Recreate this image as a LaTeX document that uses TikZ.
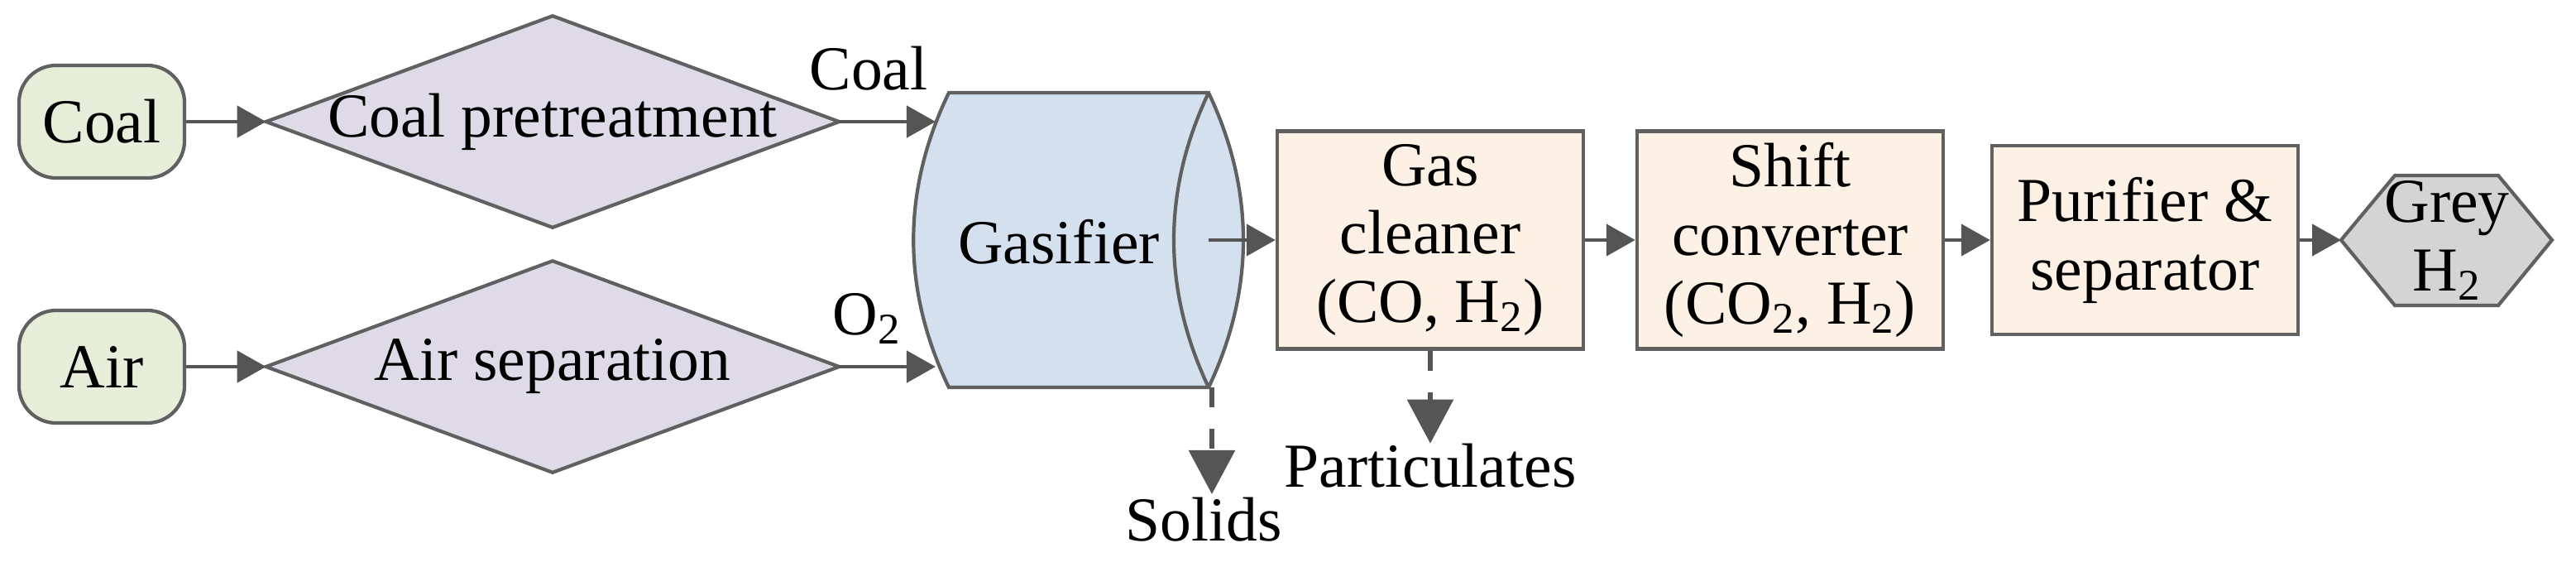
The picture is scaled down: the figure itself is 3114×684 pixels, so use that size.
\documentclass[tikz,border=0pt]{standalone}
\usepackage{fontspec}
\setmainfont{Liberation Serif}
\usetikzlibrary{shapes.geometric,arrows.meta}
\definecolor{lc}{HTML}{606060}
\definecolor{ac}{HTML}{555555}
\definecolor{termc}{HTML}{E6EDD8}
\definecolor{diac}{HTML}{DFDAE8}
\definecolor{gasc}{HTML}{D4E0EE}
\definecolor{boxc}{HTML}{FDF0E4}
\definecolor{hexc}{HTML}{D4D4D4}
\begin{document}
\begin{tikzpicture}[x=0.01cm,y=-0.01cm,
  every node/.style={font=\fontsize{21.5}{23.6}\selectfont, align=center},
  outl/.style={draw=lc, line width=1.2pt},
  term/.style={outl, fill=termc, rounded corners=0.45cm, minimum width=2cm, minimum height=1.36cm, inner sep=0pt},
  dia/.style={minimum width=6.91cm, minimum height=2.54cm, inner sep=0pt},
  diashape/.style={outl, fill=diac},
  box/.style={outl, fill=boxc, minimum width=3.7cm, minimum height=2.63cm, inner sep=0pt},
  hexa/.style={outl, fill=hexc},
  arr/.style={draw=ac, line width=1.4pt, -{Triangle[length=0.35cm,width=0.38cm]}},
  darr/.style={draw=ac, line width=1.7pt, dash pattern=on 0.24cm off 0.26cm, -{Triangle[length=0.53cm,width=0.55cm]}},
  lbl/.style={inner sep=0pt}]
\useasboundingbox (0,0) rectangle (3114,684);

% left inputs
\node[term] (coal) at (123,147) {Coal};
\node[term] (air) at (123,443) {Air};
\node[dia] (pre) at (668,147) {};
\node[dia] (asep) at (668,443) {};
\draw[diashape] (pre.west) -- (pre.north) -- (pre.east) -- (pre.south) -- cycle;
\draw[diashape] (asep.west) -- (asep.north) -- (asep.east) -- (asep.south) -- cycle;
\node at (pre) {Coal pretreatment};
\node at (asep) {Air separation};

% gasifier
\draw[outl, fill=gasc] (1147,112) -- (1461,112) .. controls (1517,230) and (1517,350) .. (1461,468)
  -- (1147,468) .. controls (1090,350) and (1090,230) .. (1147,112) -- cycle;
\draw[outl] (1461,112) .. controls (1405,230) and (1405,350) .. (1461,468);
\node (gas) at (1280,292) {Gasifier};
\coordinate (gin1) at (1131,147);
\coordinate (gin2) at (1131,443);
\coordinate (gout) at (1461,290);
\coordinate (gbot) at (1465,468);

% process boxes
\node[box] (clean) at (1729,290) {Gas\\cleaner\\(CO, H\textsubscript{2})};
\node[box] (shift) at (2164,290) {Shift\\converter\\(CO\textsubscript{2}, H\textsubscript{2})};
\node[box, minimum height=2.28cm] (pur) at (2593,290) {Purifier \&\\separator};
\draw[hexa] (2830,290) -- (2895,212) -- (3020,212) -- (3085,290) -- (3020,369) -- (2895,369) -- cycle;
\node (h2) at (2958,290) {Grey\\H\textsubscript{2}};
\coordinate (hin) at (2830,290);

% outputs
\node[lbl] (solids) at (1455,628) {Solids};
\node[lbl] (parts) at (1729,563) {Particulates};
\node[lbl] (lcoal) at (1050,83) {Coal};
\node[lbl] (lo2) at (1048,385) {O\textsubscript{2}};
\coordinate (sol) at (1465,597);

% connectors
\draw[arr] (coal) -- (pre.west);
\draw[arr] (air) -- (asep.west);
\draw[arr] (pre.east) -- (gin1);
\draw[arr] (asep.east) -- (gin2);
\draw[arr] (gout) -- (clean.west);
\draw[arr] (clean) -- (shift);
\draw[arr] (shift) -- (pur);
\draw[arr] (pur) -- (hin);
\draw[darr] (gbot) -- (sol);
\draw[darr] (clean.south) -- (parts.north);
\end{tikzpicture}
\end{document}
